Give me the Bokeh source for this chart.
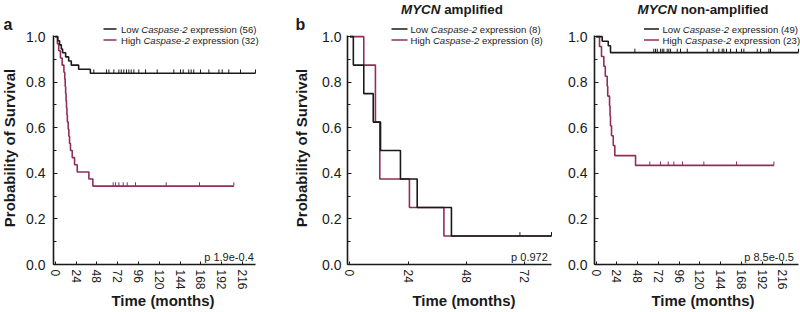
import numpy as np
from bokeh.plotting import figure
from bokeh.layouts import row
from bokeh.models import Range1d, SingleIntervalTicker, PrintfTickFormatter, Label
from bokeh.embed import file_html
from bokeh.resources import INLINE

# ---------------- data ----------------
# Panel a: all patients
A_LOW_T = [0, 3, 5, 7, 8.5, 12, 15.5, 18.5, 27, 40.5]
A_LOW_S = [1.0, 0.982, 0.964, 0.946, 0.929, 0.911, 0.893, 0.875, 0.857, 0.839]
A_LOW_END = 231
A_LOW_CENS = [44.5, 59.2, 61.9, 67.6, 73.4, 76.1, 79.1, 82.2, 84.9, 87.6, 90.7,
              96.4, 104.2, 117.6, 136.8, 144.5, 147.6, 154, 156.8, 159.8, 167.6,
              177.2, 188.8, 192.6, 200.2, 213.7, 231]
A_HIGH_T = [0, 2.5, 4, 6, 8, 10, 11, 11.5, 12, 12.5, 13, 13.5, 14, 15, 15.7,
            16.5, 17.6, 19.6, 22.3, 25.4, 38.8, 43.4]
A_HIGH_S = [1.0, 0.969, 0.938, 0.906, 0.875, 0.844, 0.813, 0.781, 0.750, 0.719,
            0.688, 0.656, 0.625, 0.594, 0.563, 0.531, 0.500, 0.469, 0.438,
            0.406, 0.375, 0.344]
A_HIGH_END = 206
A_HIGH_CENS = [66.9, 69.6, 73.4, 78.4, 83, 92.6, 128, 166.4, 206]

# Panel b: MYCN amplified
B_LOW_T = [0, 1.4, 5.7, 9.6, 12.6, 20.8, 27.7, 41.8]
B_LOW_S = [1.0, 0.875, 0.750, 0.625, 0.500, 0.375, 0.250, 0.125]
B_LOW_END = 83
B_LOW_CENS = [70, 83]
B_HIGH_T = [0, 5.7, 10.5, 12.3, 24.5, 38.7]
B_HIGH_S = [1.0, 0.875, 0.625, 0.375, 0.250, 0.125]
B_HIGH_END = 83
B_HIGH_CENS = [83]

# Panel c: MYCN non-amplified
C_LOW_T = [0, 6.9, 13.9, 16.5]
C_LOW_S = [1.0, 0.980, 0.960, 0.930]
C_LOW_END = 234
C_LOW_CENS = [44.7, 66.6, 68.6, 70.6, 74.4, 76.4, 78.2, 82.1, 84, 86, 93.7, 97.5,
              105.3, 128.4, 135.3, 141.8, 145.8, 147.6, 150.7, 155.4, 162.3,
              168.1, 170.8, 186.3, 190.1, 199.7, 201.6, 234]
C_HIGH_T = [0, 3.8, 6.1, 8.8, 10.5, 12.7, 13.3, 15.4, 16, 16.5, 17.7, 19.7, 21.5, 45.5]
C_HIGH_S = [1.0, 0.957, 0.913, 0.870, 0.826, 0.783, 0.739, 0.696, 0.652, 0.609,
            0.565, 0.522, 0.478, 0.435]
C_HIGH_END = 205.6
C_HIGH_CENS = [62, 74.4, 83.3, 89.8, 99.8, 124.5, 162.3, 205.5]

N_LOW = [56, 8, 49]
N_HIGH = [32, 8, 23]
P_VALUES = ["p 1.9e-0.4", "p 0.972", "p 8.5e-0.5"]
PANEL_LETTERS = ["a", "b", None]
PANEL_TITLES = [None, "amplified", "non-amplified"]
X_TICK_STEP = 24
Y_TICK_STEP = 0.2

# ---------------- style / layout ----------------
FONT = "Liberation Sans"
BLACK = "#1a1a1a"
PINK = "#8e2f5a"
H = 312
FT, FB = 35, 264          # axis top / bottom (page px)
YR = (0, 1.005)           # value span of the y axis

PANELS = [
    dict(x0=0, w=262, fl=53, fr=255, xr=(-2, 231), ystd=8),
    dict(x0=262, w=291, fl=347, fr=551, xr=(-1, 83), ystd=6),
    dict(x0=553, w=247, fl=594, fr=798, xr=(-2, 234), ystd=7),
]

EM = {' ': .278, 'L': .556, 'o': .556, 'w': .722, 'H': .722, 'i': .222,
      'g': .556, 'h': .556, 'C': .722, 'a': .556, 's': .5, 'p': .556,
      'e': .556, '-': .333, '2': .556}
EMB = {'M': .833, 'Y': .667, 'C': .722, 'N': .722, ' ': .278}


def width(txt, size, table=EM):
    return sum(table.get(c, .556) for c in txt) * size


def xscale(P):
    return (P["xr"][1] - P["xr"][0]) / (P["fr"] - P["fl"])


def yscale():
    return (YR[1] - YR[0]) / (FB - FT)


def to_data(P, px, py):
    x = P["xr"][0] + (px - P["fl"]) * xscale(P)
    y = YR[0] + (FB - py) * yscale()
    return x, y


def lab(p, P, px, py, text, size, style="normal", align="left",
        baseline="middle", angle=0.0, color=BLACK):
    x, y = to_data(P, px, py)
    p.add_layout(Label(x=x, y=y, text=text, text_font=FONT,
                       text_font_size=f"{size}px", text_font_style=style,
                       text_align=align, text_baseline=baseline, angle=angle,
                       text_color=color))


def km(p, T, S, end, cens, color):
    xs = list(T) + [end]
    ys = list(S) + [S[-1]]
    p.step(xs, ys, mode="after", line_color=color, line_width=1.6)
    Ta = np.array(T)
    Sa = np.array(S)
    cy = [float(Sa[np.searchsorted(Ta, c, side="right") - 1]) for c in cens]
    p.segment(x0=cens, y0=cy, x1=cens, y1=[v + 0.017 for v in cy],
              line_color=color, line_width=1.0)


def make_panel(i, curves):
    P = PANELS[i]
    xs = xscale(P)
    ys = yscale()
    x_start = P["xr"][0] - (P["fl"] - P["x0"]) * xs
    x_end = P["xr"][1] + (P["x0"] + P["w"] - P["fr"]) * xs
    y_start = YR[0] - (H - FB) * ys
    y_end = YR[1] + FT * ys
    p = figure(width=P["w"], height=H, output_backend="svg",
               toolbar_location=None,
               x_range=Range1d(x_start, x_end), y_range=Range1d(y_start, y_end),
               min_border_left=0, min_border_right=0,
               min_border_top=0, min_border_bottom=0)
    p.title.visible = False
    p.outline_line_color = None
    p.background_fill_color = "white"
    p.border_fill_color = "white"
    p.grid.visible = False

    xa = p.xaxis[0]
    xa.fixed_location = YR[0]
    xa.bounds = P["xr"]
    xa.ticker = SingleIntervalTicker(interval=X_TICK_STEP, num_minor_ticks=0)
    xa.major_label_orientation = "vertical"
    xa.major_label_text_font = FONT
    xa.major_label_text_font_size = "12px"
    xa.major_label_text_color = BLACK
    xa.major_label_standoff = 5
    xa.major_tick_in = 3
    xa.major_tick_out = 0
    xa.minor_tick_in = 0
    xa.minor_tick_out = 0
    xa.axis_line_width = 1.6
    xa.axis_line_color = BLACK
    xa.major_tick_line_color = BLACK

    ya = p.yaxis[0]
    ya.fixed_location = P["xr"][0]
    ya.bounds = YR
    ya.ticker = SingleIntervalTicker(interval=Y_TICK_STEP, num_minor_ticks=2)
    ya.formatter = PrintfTickFormatter(format="%.1f")
    ya.major_label_text_font = FONT
    ya.major_label_text_font_size = "14px"
    ya.major_label_text_color = BLACK
    ya.major_label_standoff = P["ystd"]
    ya.major_tick_in = 4
    ya.major_tick_out = 0
    ya.minor_tick_in = 3
    ya.minor_tick_out = 0
    ya.axis_line_width = 1.6
    ya.axis_line_color = BLACK
    ya.major_tick_line_color = BLACK
    ya.minor_tick_line_color = BLACK

    (hT, hS, hE, hC), (lT, lS, lE, lC) = curves
    km(p, hT, hS, hE, hC, PINK)
    km(p, lT, lS, lE, lC, BLACK)
    return p, P


def legend(p, P, lx0, lx1, tx, n_low, n_high):
    fs = 9.6
    for yy, color, word, n in [(28.5, BLACK, "Low", n_low),
                               (39.5, PINK, "High", n_high)]:
        xa, ya_ = to_data(P, lx0, yy)
        xb, _ = to_data(P, lx1, yy)
        p.segment(x0=[xa], y0=[ya_], x1=[xb], y1=[ya_],
                  line_color=color, line_width=1.6)
        lab(p, P, tx, yy, word, fs)
        x2 = tx + width(word + " ", fs)
        lab(p, P, x2, yy, "Caspase-2", fs, style="italic")
        x3 = x2 + width("Caspase-2 ", fs)
        lab(p, P, x3, yy, f"expression ({n})", fs)


panels = []
curve_sets = [
    ((A_HIGH_T, A_HIGH_S, A_HIGH_END, A_HIGH_CENS), (A_LOW_T, A_LOW_S, A_LOW_END, A_LOW_CENS)),
    ((B_HIGH_T, B_HIGH_S, B_HIGH_END, B_HIGH_CENS), (B_LOW_T, B_LOW_S, B_LOW_END, B_LOW_CENS)),
    ((C_HIGH_T, C_HIGH_S, C_HIGH_END, C_HIGH_CENS), (C_LOW_T, C_LOW_S, C_LOW_END, C_LOW_CENS)),
]
legend_pos = [(103, 116, 120.5), (391, 407, 410), (643.5, 658.5, 662)]
pval_right = [253.3, 547.3, 793.3]
xtitle_cx = [162.5, 463.5, 702.5]
ytitle_cx = [9, 301, None]
letter_pos = [(7.5, 24), (300, 24), None]
title_start = [None, 400.5, 637]

for i in range(3):
    p, P = make_panel(i, curve_sets[i])
    legend(p, P, *legend_pos[i], N_LOW[i], N_HIGH[i])
    lab(p, P, pval_right[i], 256.5, P_VALUES[i], 11, align="right")
    lab(p, P, xtitle_cx[i], 299.5, "Time (months)", 15, style="bold",
        align="center")
    if ytitle_cx[i] is not None:
        lab(p, P, ytitle_cx[i], 147.5, "Probability of Survival", 15,
            style="bold", align="center", angle=np.pi / 2)
    if PANEL_LETTERS[i]:
        lx, ly = letter_pos[i]
        lab(p, P, lx, ly, PANEL_LETTERS[i], 16, style="bold", align="center")
    if PANEL_TITLES[i]:
        ts = 13.4
        sx = title_start[i]
        lab(p, P, sx, 8.5, "MYCN", ts, style="bold italic")
        sx2 = sx + width("MYCN ", ts, EMB)
        lab(p, P, sx2, 8.5, PANEL_TITLES[i], ts, style="bold")
    panels.append(p)

layout = row(*panels)
open("out.html", "w").write(file_html(layout, INLINE))
